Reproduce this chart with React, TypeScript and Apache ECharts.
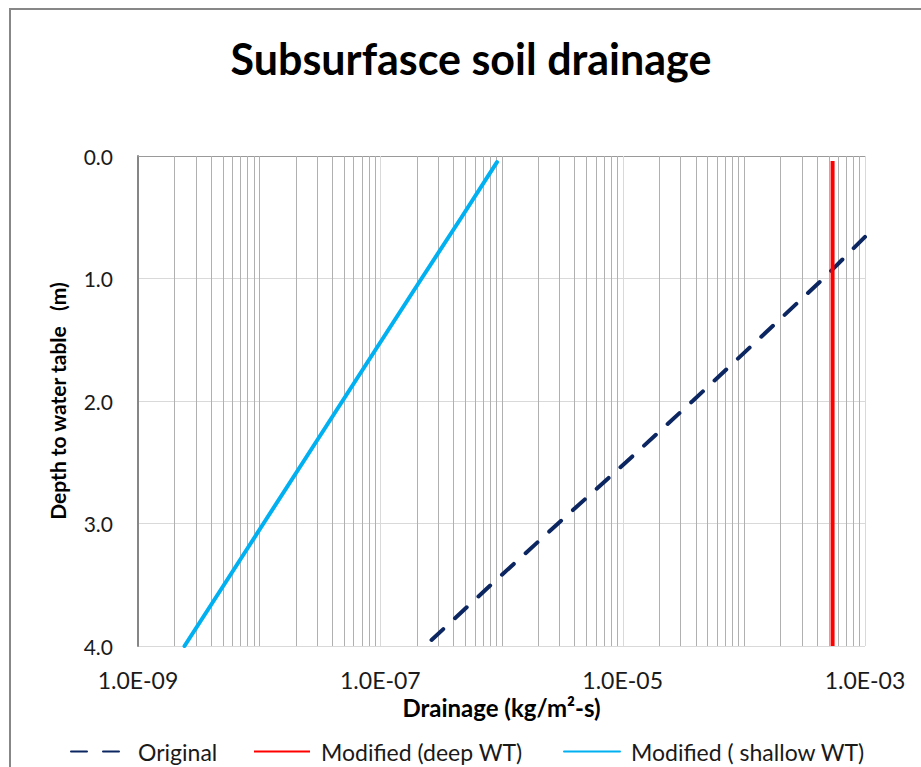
import React, { useEffect, useRef } from "react";
import * as echarts from "echarts";

// ---- data ----
const seriesNames = ["Original", "Modified (deep WT)", "Modified ( shallow WT)"];

const depthOriginal = [0.66, 1.0, 1.5, 2.0, 2.5, 3.0, 3.5, 4.0];
const drainageOriginal = [1.0e-3, 4.54e-4, 1.31e-4, 3.78e-5, 1.065e-5, 2.93e-6, 8.19e-7, 2.34e-7];

const depthDeep = [0.04, 4.0];
const drainageDeep = [5.4e-4, 5.4e-4];

const depthShallow = [0.05, 0.5, 1.0, 1.5, 2.0, 2.5, 3.0, 3.5, 4.0];
const drainageShallow = [9.18e-7, 4.68e-7, 2.19e-7, 1.032e-7, 4.87e-8, 2.3e-8, 1.085e-8, 5.13e-9, 2.42e-9];

const xTickValues = [1e-9, 1e-7, 1e-5, 1e-3];
const xTickLabels = ["1.0E-09", "1.0E-07", "1.0E-05", "1.0E-03"];
const yTickLabels = ["0.0", "1.0", "2.0", "3.0", "4.0"];

const titleText = "Subsurfasce soil drainage";
const xAxisName = "Drainage (kg/m\u00B2-s)";
const yAxisName = "Depth to water table\u00A0\u00A0\u00A0(m)";

const FONT = "Lato";

function pairs(xs: number[], ys: number[]) {
  return xs.map((x, i) => [x, ys[i]]);
}

// vertical grid values: [value, isMajor]
function gridValues() {
  const out: number[][] = [];
  for (let e = -9; e <= -3; e++) {
    for (let k = 1; k <= 9; k++) {
      const v = k * Math.pow(10, e);
      if (v > 1.0000001e-3) continue;
      if (k === 1 && e === -9) continue; // axis line
      const isMajor =
        k === 1 && xTickValues.some((t) => Math.abs(Math.log10(t) - e) < 1e-6) ? 1 : 0;
      out.push([v, isMajor]);
    }
  }
  return out;
}

export default function App() {
  const ref = useRef<HTMLDivElement>(null);

  useEffect(() => {
    if (!ref.current) return;
    const chart = echarts.init(ref.current, null, { renderer: "svg" });

    const legendCommon = {
      top: 735,
      itemWidth: 56,
      itemHeight: 14,
      selectedMode: false,
      itemStyle: { opacity: 0 },
      textStyle: {
        fontFamily: FONT,
        fontSize: 23,
        color: "#1a1a1a",
        padding: [0, 0, 0, 6],
      },
    };

    chart.setOption({
      animation: false,
      backgroundColor: "#ffffff",
      graphic: [
        {
          type: "rect",
          shape: { x: 10, y: 9, width: 1000, height: 1000 },
          style: { fill: "none", stroke: "#878787", lineWidth: 2 },
          silent: true,
          z: 0,
        },
        {
          type: "text",
          x: 471,
          y: 58,
          style: {
            text: titleText,
            font: `bold 43px ${FONT}`,
            fill: "#000000",
            align: "center",
            verticalAlign: "middle",
          },
        },
      ],
      legend: [
        { ...legendCommon, left: 65, data: [seriesNames[0]] },
        { ...legendCommon, left: 248, data: [seriesNames[1]] },
        { ...legendCommon, left: 558, data: [seriesNames[2]] },
      ],
      grid: { left: 138, top: 156, right: 56, bottom: 121, containLabel: false },
      xAxis: {
        type: "log",
        logBase: 10,
        min: 1e-9,
        max: 1e-3,
        name: xAxisName,
        nameLocation: "middle",
        nameGap: 45,
        nameTextStyle: { fontFamily: FONT, fontSize: 24, fontWeight: "bold", color: "#000" },
        axisLine: { show: true, lineStyle: { color: "#9a9a9a", width: 1 } },
        axisTick: { show: false },
        splitLine: { show: false },
        axisLabel: {
          fontFamily: FONT,
          fontSize: 23,
          color: "#1a1a1a",
          margin: 22,
          showMinLabel: true,
          showMaxLabel: true,
          formatter: (v: number) => {
            const idx = xTickValues.findIndex((t) => Math.abs(Math.log10(t) - Math.log10(v)) < 1e-6);
            return idx >= 0 ? xTickLabels[idx] : "";
          },
        },
      },
      yAxis: {
        type: "value",
        inverse: true,
        min: 0,
        max: 4,
        interval: 1,
        name: yAxisName,
        nameLocation: "middle",
        nameGap: 70,
        nameRotate: 90,
        nameTextStyle: { fontFamily: FONT, fontSize: 21, fontWeight: "bold", color: "#000" },
        axisLine: { show: true, onZero: false, lineStyle: { color: "#868686", width: 2 } },
        axisTick: { show: false },
        splitLine: { show: true, lineStyle: { color: "#d9d9d9", width: 1 } },
        axisLabel: {
          fontFamily: FONT,
          fontSize: 21,
          color: "#1a1a1a",
          margin: 25,
          formatter: (v: number) => yTickLabels[Math.round(v)] ?? "",
        },
      },
      series: [
        {
          name: "__grid",
          type: "custom",
          silent: true,
          z: 1,
          data: gridValues(),
          encode: { x: 0 },
          renderItem: (_params: any, api: any) => {
            const v = api.value(0);
            const p1 = api.coord([v, 0]);
            const p2 = api.coord([v, 4]);
            const x = Math.round(p1[0]) + 0.5;
            return {
              type: "line",
              shape: { x1: x, y1: p1[1], x2: x, y2: p2[1] },
              style: { stroke: api.value(1) ? "#d9d9d9" : "#b0b0b0", lineWidth: 1 },
            };
          },
        },
        {
          name: seriesNames[0],
          type: "line",
          data: pairs(drainageOriginal, depthOriginal),
          symbol: "none",
          showSymbol: false,
          z: 3,
          itemStyle: { color: "#0b2660" },
          lineStyle: { color: "#0b2660", width: 4, type: [16, 16], cap: "round" },
        },
        {
          name: seriesNames[1],
          type: "line",
          data: pairs(drainageDeep, depthDeep),
          symbol: "none",
          showSymbol: false,
          z: 4,
          itemStyle: { color: "#ff0000" },
          lineStyle: { color: "#ff0000", width: 4 },
        },
        {
          name: seriesNames[2],
          type: "line",
          data: pairs(drainageShallow, depthShallow),
          symbol: "none",
          showSymbol: false,
          z: 3,
          itemStyle: { color: "#00b0f0" },
          lineStyle: { color: "#00b0f0", width: 4, cap: "round" },
        },
      ],
    });

    return () => chart.dispose();
  }, []);

  return (
    <div
      ref={ref}
      style={{ position: "fixed", left: 0, top: 0, width: 921, height: 767, background: "#fff" }}
    />
  );
}
